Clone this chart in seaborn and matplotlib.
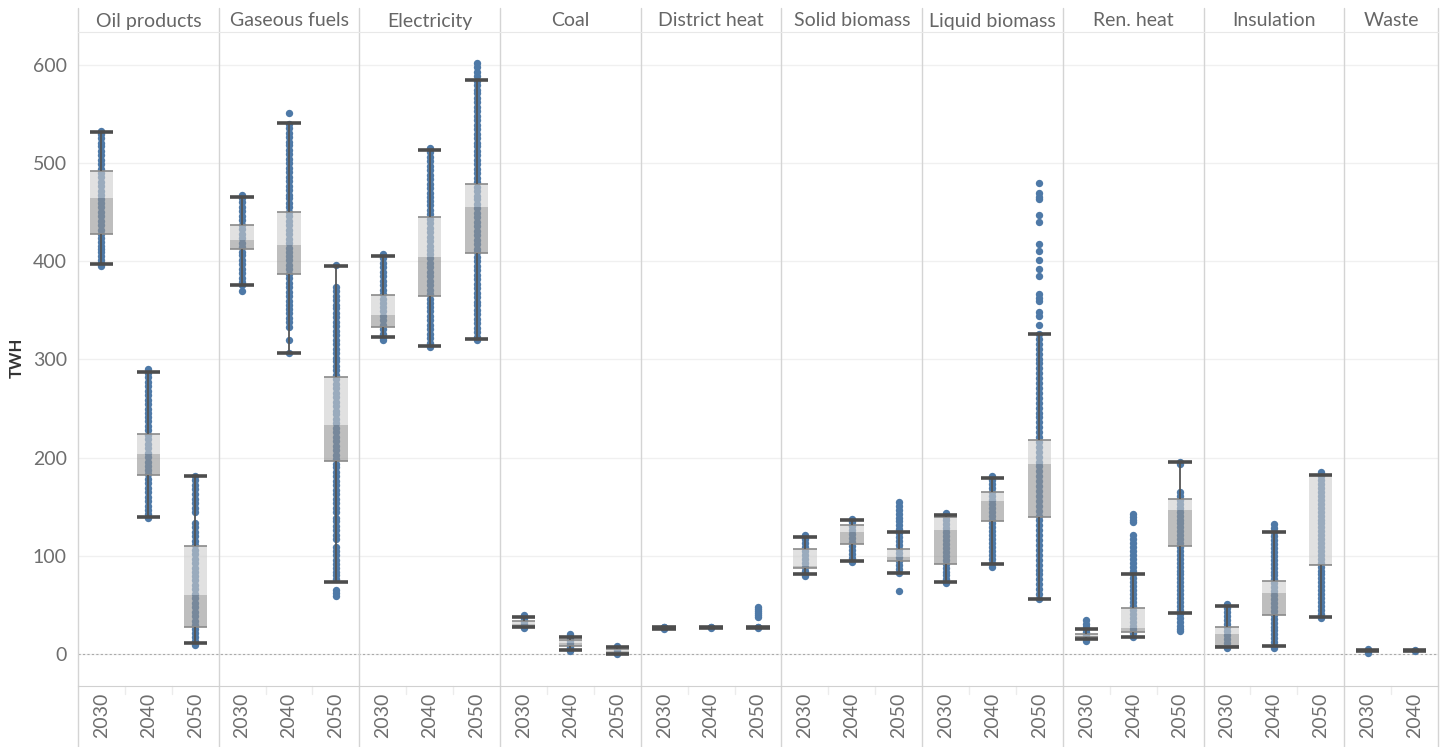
import numpy as np
import pandas as pd
import matplotlib
matplotlib.use("Agg")
import matplotlib.pyplot as plt
import matplotlib.transforms as mtransforms
import seaborn as sns

categories = ["Oil products", "Gaseous fuels", "Electricity", "Coal", "District heat",
              "Solid biomass", "Liquid biomass", "Ren. heat", "Insulation", "Waste"]
years = ["2030", "2040", "2050"]

# box stats, one per column (category x year)
whisker_low = [397, 140, 11.5, 376, 306.5, 73, 322.5, 313.5, 321, 27, 4, 0.5, 25.5, 26, 26,
               81, 94.5, 82, 73.5, 91.5, 56, 15, 17.5, 42, 7.5, 8, 37.5, 3, 3]
q1 = [428, 182, 27, 413, 387, 196.5, 333, 364.5, 408, 28.5, 8, 1.5, 26, 26.5, 26.5,
      88, 112.5, 95, 91.5, 135.5, 140, 17, 22.5, 110.5, 8.5, 39.5, 91, 3.2, 3.2]
median = [465, 204, 60, 422, 416.5, 233, 345, 404.5, 455, 31, 11.5, 3, 26.5, 27, 27,
          90, 124.5, 99, 126, 156, 193.5, 18.5, 26, 146.5, 20.5, 62, 91.5, 3.4, 3.4]
q3 = [492, 224, 110, 437, 450, 282.5, 366, 445, 478.5, 34, 14, 5, 27, 27, 27,
      106.5, 131, 106.5, 140, 165, 218, 20.5, 47, 157.5, 28, 74.5, 182, 3.6, 3.6]
whisker_high = [532, 287, 181, 466, 541, 395, 405, 513, 585, 38, 17.5, 7, 27.5, 27.5, 28,
                119.5, 136, 124.5, 142, 179.5, 326, 25, 81, 196, 49, 124, 182.5, 3.8, 3.8]

# scenario points (TWh) per year
oil_products = [
    [533, 530, 526, 521, 517, 512, 508, 503, 499, 494, 490, 486, 481, 477, 472, 468, 463, 459,
     455, 450, 446, 441, 437, 432, 428, 424, 420, 416, 413, 409, 405, 401, 398, 395],
    [290, 286, 282, 277, 273, 268, 264, 259, 255, 250, 246, 241, 237, 232, 228, 223, 219, 214,
     210, 205, 201, 196, 192, 187, 183, 178, 174, 169, 165, 160, 156, 151, 147, 143, 139],
    [181, 177, 172, 168, 163, 158, 154, 149, 145, 133, 129, 124, 120, 115, 111, 106, 102, 97,
     93, 88, 84, 79, 75, 70, 66, 61, 57, 52, 48, 43, 39, 34, 30, 25, 21, 17, 13, 9],
]
gaseous_fuels = [
    [468, 464, 460, 455, 451, 446, 442, 437, 433, 428, 424, 419, 415, 410, 406, 401, 397, 392,
     388, 383, 379, 376, 370],
    [551, 540, 536, 531, 527, 522, 518, 513, 509, 504, 500, 495, 491, 486, 482, 477, 473, 468,
     464, 459, 455, 450, 446, 441, 437, 432, 428, 423, 419, 414, 410, 405, 401, 396, 392, 387,
     383, 378, 374, 369, 365, 360, 356, 351, 347, 342, 338, 333, 320, 307],
    [396, 374, 370, 365, 361, 356, 352, 347, 343, 338, 334, 329, 325, 320, 316, 311, 307, 302,
     298, 293, 289, 284, 280, 275, 271, 266, 262, 257, 253, 248, 244, 239, 235, 230, 226, 221,
     217, 212, 208, 203, 199, 194, 190, 185, 181, 176, 172, 167, 163, 158, 154, 149, 145, 139,
     135, 130, 126, 121, 117, 109, 105, 101, 96, 92, 88, 84, 80, 76, 65, 62, 59],
]
electricity = [
    [407, 403, 398, 394, 389, 385, 380, 376, 371, 367, 362, 358, 353, 349, 344, 340, 335, 331,
     326, 322, 320],
    [515, 511, 506, 502, 497, 493, 488, 484, 479, 475, 470, 466, 461, 457, 452, 448, 443, 439,
     434, 430, 425, 421, 416, 412, 407, 403, 398, 394, 389, 385, 380, 376, 371, 367, 362, 358,
     353, 349, 344, 340, 335, 331, 326, 322, 317, 313],
    [602, 598, 593, 589, 584, 580, 575, 571, 566, 562, 557, 553, 548, 544, 539, 535, 530, 526,
     521, 517, 512, 508, 503, 499, 494, 490, 485, 481, 476, 472, 467, 463, 458, 454, 449, 445,
     440, 436, 431, 427, 422, 418, 413, 409, 404, 400, 395, 391, 386, 382, 377, 373, 368, 364,
     359, 355, 350, 346, 341, 337, 332, 328, 323, 320],
]
coal = [
    [40, 37, 35, 33, 31, 29, 27, 26],
    [20, 17, 15, 13, 11, 9, 7, 5, 3],
    [8, 6, 4, 2, 0],
]
district_heat = [
    [28, 27, 26, 25],
    [28, 27, 26],
    [48, 46, 44, 42, 40, 38, 28, 27, 26],
]
solid_biomass = [
    [121, 117, 113, 109, 105, 101, 97, 93, 89, 85, 81, 79],
    [138, 134, 130, 126, 122, 118, 114, 110, 106, 102, 98, 94],
    [155, 151, 147, 143, 139, 135, 131, 127, 123, 119, 115, 111, 107, 103, 99, 95, 91, 87, 83, 64],
]
liquid_biomass = [
    [144, 140, 136, 132, 128, 124, 120, 116, 112, 108, 104, 100, 96, 92, 88, 84, 80, 76, 72],
    [181, 177, 173, 169, 165, 161, 157, 153, 149, 145, 141, 137, 133, 129, 125, 121, 117, 113,
     109, 105, 101, 97, 93, 89],
    [480, 470, 466, 463, 447, 440, 418, 411, 401, 392, 385, 367, 363, 360, 348, 344, 335, 326,
     321, 316, 311, 306, 301, 296, 291, 286, 281, 276, 271, 266, 261, 256, 251, 246, 241, 236,
     231, 226, 221, 216, 211, 206, 201, 196, 191, 186, 181, 176, 171, 166, 161, 156, 151, 146,
     141, 136, 131, 126, 121, 116, 111, 106, 101, 96, 91, 86, 81, 76, 71, 66, 61, 56],
]
ren_heat = [
    [35, 31, 28, 25, 22, 19, 16, 13],
    [143, 140, 137, 134, 121, 117, 113, 109, 105, 101, 97, 93, 89, 85, 81, 77, 73, 69, 65, 61,
     57, 53, 49, 45, 41, 37, 33, 29, 25, 21, 17],
    [196, 194, 165, 161, 157, 153, 149, 145, 141, 137, 133, 129, 125, 121, 117, 113, 109, 105,
     101, 97, 93, 89, 85, 81, 77, 73, 69, 65, 61, 57, 53, 49, 45, 41, 37, 33, 29, 25, 23],
]
insulation = [
    [51, 47, 43, 39, 35, 31, 27, 23, 19, 15, 11, 7, 6],
    [132, 128, 124, 120, 116, 112, 108, 104, 100, 96, 92, 88, 84, 80, 76, 72, 68, 64, 60, 56,
     52, 48, 44, 40, 36, 32, 28, 24, 20, 16, 12, 8, 6],
    [185, 181, 177, 173, 169, 165, 161, 157, 153, 149, 145, 141, 137, 133, 129, 125, 121, 117,
     113, 109, 105, 101, 97, 93, 89, 85, 81, 77, 73, 69, 65, 61, 57, 53, 49, 45, 41, 37],
]
waste = [
    [5, 3, 1],
    [4, 3],
]

all_points = [oil_products, gaseous_fuels, electricity, coal, district_heat,
              solid_biomass, liquid_biomass, ren_heat, insulation, waste]

rows = []
order = []
year_labels = []
for cat, groups in zip(categories, all_points):
    for yr, pts in zip(years, groups):
        key = cat + "|" + yr
        order.append(key)
        year_labels.append(yr)
        for v in pts:
            rows.append({"col": key, "twh": v})
df = pd.DataFrame(rows)

sns.set_style("white")
plt.rcParams["font.family"] = ["Lato", "DejaVu Sans"]

fig = plt.figure(figsize=(14.5, 7.47), dpi=100)
ax = fig.add_axes([78 / 1450, 61 / 747, 1360 / 1450, 654 / 747])

sns.stripplot(data=df, x="col", y="twh", order=order, jitter=False, size=5.3,
              color="#4e79a7", linewidth=0, ax=ax, zorder=2)

pos = np.arange(len(order))
ql = np.array(q1)
qm = np.array(median)
qh = np.array(q3)
ax.bar(pos, qm - ql, bottom=ql, width=0.5, color="#939393", alpha=0.6, linewidth=0, zorder=3)
ax.bar(pos, qh - qm, bottom=qm, width=0.5, color="#cdcdcd", alpha=0.6, linewidth=0, zorder=3)
ax.hlines(q1, pos - 0.25, pos + 0.25, color="#8a8a8a", lw=1.2, zorder=4)
ax.hlines(q3, pos - 0.25, pos + 0.25, color="#8a8a8a", lw=1.2, zorder=4)
ax.vlines(pos, whisker_low, q1, color="#555555", lw=1.3, zorder=4)
ax.vlines(pos, q3, whisker_high, color="#555555", lw=1.3, zorder=4)
ax.hlines(whisker_low, pos - 0.25, pos + 0.25, color="#4d4d4d", lw=2.6, zorder=5)
ax.hlines(whisker_high, pos - 0.25, pos + 0.25, color="#4d4d4d", lw=2.6, zorder=5)

ax.set_xlim(-0.5, len(order) - 0.5)
ax.set_ylim(-32.6, 633.6)
ax.set_yticks(range(0, 700, 100))
ax.grid(axis="y", color="#f0f0f0", lw=1, zorder=0)
ax.set_axisbelow(True)
ax.axhline(0, color="#aaaaaa", ls=(0, (2, 2)), lw=0.8, zorder=1)

ax.set_xticks(pos)
ax.set_xticklabels(year_labels, rotation=90)
ax.tick_params(axis="x", length=0, pad=5, labelsize=14, labelcolor="#6e6e6e")
ax.tick_params(axis="y", length=0, pad=8, labelsize=14, labelcolor="#6e6e6e")
ax.set_xlabel("")
ax.set_ylabel("")

for s in ["left", "right"]:
    ax.spines[s].set_visible(False)
ax.spines["top"].set_color("#e8e8e8")
ax.spines["bottom"].set_color("#d0d0d0")

# panel separators running through header and year label area
bounds = [-0.5 + 3 * i for i in range(10)] + [len(order) - 0.5]
for b in bounds:
    ax.axvline(b, ymin=-0.094, ymax=1.037, color="#d4d4d4", lw=1, clip_on=False, zorder=1)
for p in pos[:-1]:
    if (p + 0.5) not in bounds:
        ax.axvline(p + 0.5, ymin=-0.012, ymax=0, color="#ececec", lw=1, clip_on=False)

trans = mtransforms.blended_transform_factory(ax.transData, ax.transAxes)
for i, cat in enumerate(categories):
    n = len(all_points[i])
    center = 3 * i + (n - 1) / 2
    ax.text(center, 1 + 11 / 654, cat, transform=trans, ha="center", va="center",
            fontsize=14, color="#666666")

fig.text(17 / 1450, 1 - 358 / 747, "TWH", rotation=90, ha="center", va="center",
         fontsize=12, fontweight="bold", color="#333333")

fig.savefig("out.png", dpi=100)
